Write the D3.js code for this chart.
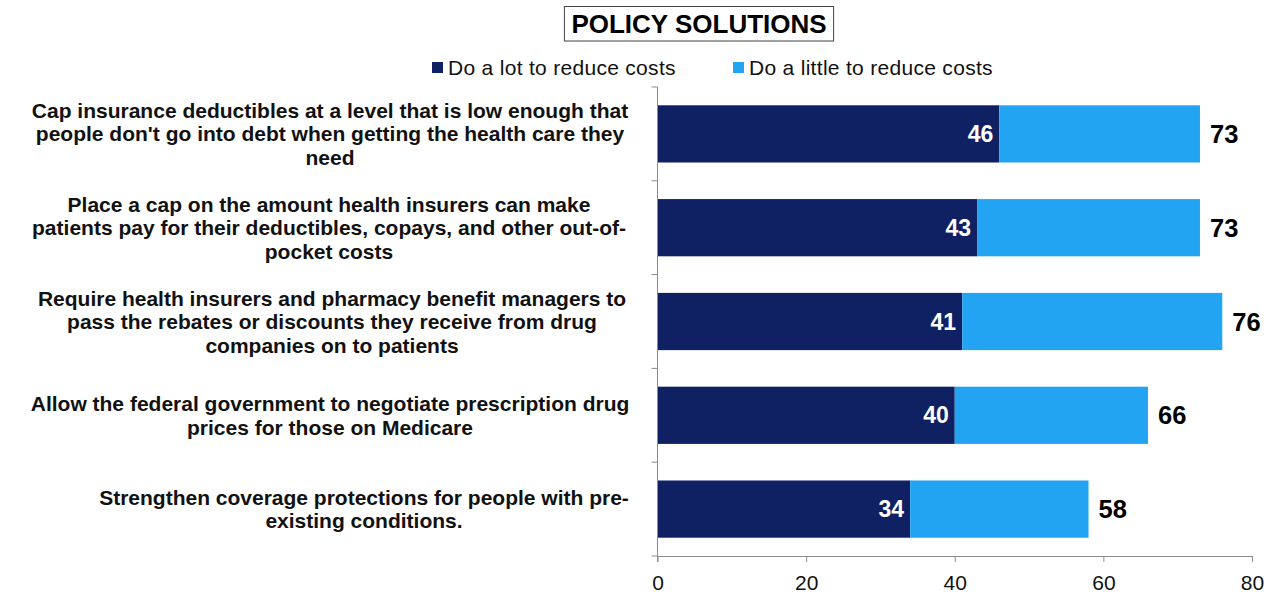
<!DOCTYPE html>
<html><head><meta charset="utf-8">
<script src="https://cdn.jsdelivr.net/npm/d3@7"></script>
<style>body{margin:0;background:#fff;} text{font-family:"Liberation Sans",Arial,sans-serif;}</style>
</head><body>
<svg id="chart" width="1271" height="597"></svg>
<script>
const categories = [
  ["Cap insurance deductibles at a level that is low enough that","people don't go into debt when getting the health care they","need"],
  ["Place a cap on the amount health insurers can make","patients pay for their deductibles, copays, and other out-of-","pocket costs"],
  ["Require health insurers and pharmacy benefit managers to","pass the rebates or discounts they receive from drug","companies on to patients"],
  ["Allow the federal government to negotiate prescription drug","prices for those on Medicare"],
  ["Strengthen coverage protections for people with pre-","existing conditions."]
];
const doALot = [46, 43, 41, 40, 34];
const totals = [73, 73, 76, 66, 58];
const doALittle = totals.map((t, i) => t - doALot[i]);
const seriesNames = ["Do a lot to reduce costs", "Do a little to reduce costs"];
const xTicks = [0, 20, 40, 60, 80];

const colors = ["#0f2063", "#22a4f2"];
const svg = d3.select("#chart");
const m = {left: 657.5, right: 1252, top: 87, bottom: 556};
const x = d3.scaleLinear().domain([0, 80]).range([m.left, m.right]);
const y = d3.scaleBand().domain(d3.range(categories.length)).range([m.top, m.bottom]).paddingInner(0.39).paddingOuter(0.195);

// Title
const title = svg.append("text").attr("x", 699).attr("y", 33).attr("text-anchor", "middle")
  .attr("font-size", 26).attr("font-weight", "bold").text("POLICY SOLUTIONS");
const tb = title.node().getBBox();
svg.insert("rect", "text").attr("x", tb.x - 7).attr("y", 6.5).attr("width", tb.width + 14).attr("height", 34.5)
  .attr("fill", "none").attr("stroke", "#444").attr("stroke-width", 1);

// Legend
const legX = [432, 733];
seriesNames.forEach((n, i) => {
  svg.append("rect").attr("x", legX[i]).attr("y", 62).attr("width", 11).attr("height", 11).attr("fill", colors[i]);
  svg.append("text").attr("x", legX[i] + 16).attr("y", 74.5).attr("font-size", 21).attr("letter-spacing", 0.3)
    .attr("fill", "#111").text(n);
});

// Bars
const g = svg.append("g");
categories.forEach((c, i) => {
  g.append("rect").attr("x", x(0)).attr("y", y(i)).attr("width", x(doALot[i]) - x(0)).attr("height", y.bandwidth()).attr("fill", colors[0]);
  g.append("rect").attr("x", x(doALot[i])).attr("y", y(i)).attr("width", x(totals[i]) - x(doALot[i])).attr("height", y.bandwidth()).attr("fill", colors[1]);
  g.append("text").attr("x", x(doALot[i]) - 6).attr("y", y(i) + y.bandwidth() / 2 + 8).attr("text-anchor", "end")
    .attr("font-size", 23).attr("font-weight", "bold").attr("fill", "#fff").text(doALot[i]);
  g.append("text").attr("x", x(totals[i]) + 10).attr("y", y(i) + y.bandwidth() / 2 + 9).attr("text-anchor", "start")
    .attr("font-size", 25.5).attr("font-weight", "bold").attr("fill", "#000").text(totals[i]);
});

// Axes
const axisColor = "#8c8c8c";
const xAxis = svg.append("g").attr("transform", `translate(0,${m.bottom})`)
  .call(d3.axisBottom(x).tickValues(xTicks).tickSize(6).tickSizeOuter(0));
xAxis.select(".domain").attr("stroke", axisColor);
xAxis.selectAll(".tick line").attr("stroke", axisColor);
xAxis.selectAll(".tick text").attr("font-size", 21).attr("fill", "#111").attr("y", 34).attr("dy", 0)
  .style("font-family", "Liberation Sans, Arial, sans-serif");

const bounds = d3.range(categories.length + 1).map(i => m.top + i * (m.bottom - m.top) / categories.length);
svg.append("line").attr("x1", m.left).attr("x2", m.left).attr("y1", m.top).attr("y2", m.bottom + 6).attr("stroke", axisColor);
bounds.forEach(b => svg.append("line").attr("x1", m.left - 6).attr("x2", m.left).attr("y1", b).attr("y2", b).attr("stroke", axisColor));

// Category labels
const labelCenter = [330, 329, 332, 330, 364];
const lineH = 23.5;
categories.forEach((lines, i) => {
  const cy = y(i) + y.bandwidth() / 2;
  const t = svg.append("text").attr("font-size", 21).attr("font-weight", "bold").attr("fill", "#111").attr("text-anchor", "middle");
  lines.forEach((l, j) => {
    t.append("tspan").attr("x", labelCenter[i])
      .attr("y", cy + (j - (lines.length - 1) / 2) * lineH + 7.5).text(l);
  });
});
</script>
</body></html>
